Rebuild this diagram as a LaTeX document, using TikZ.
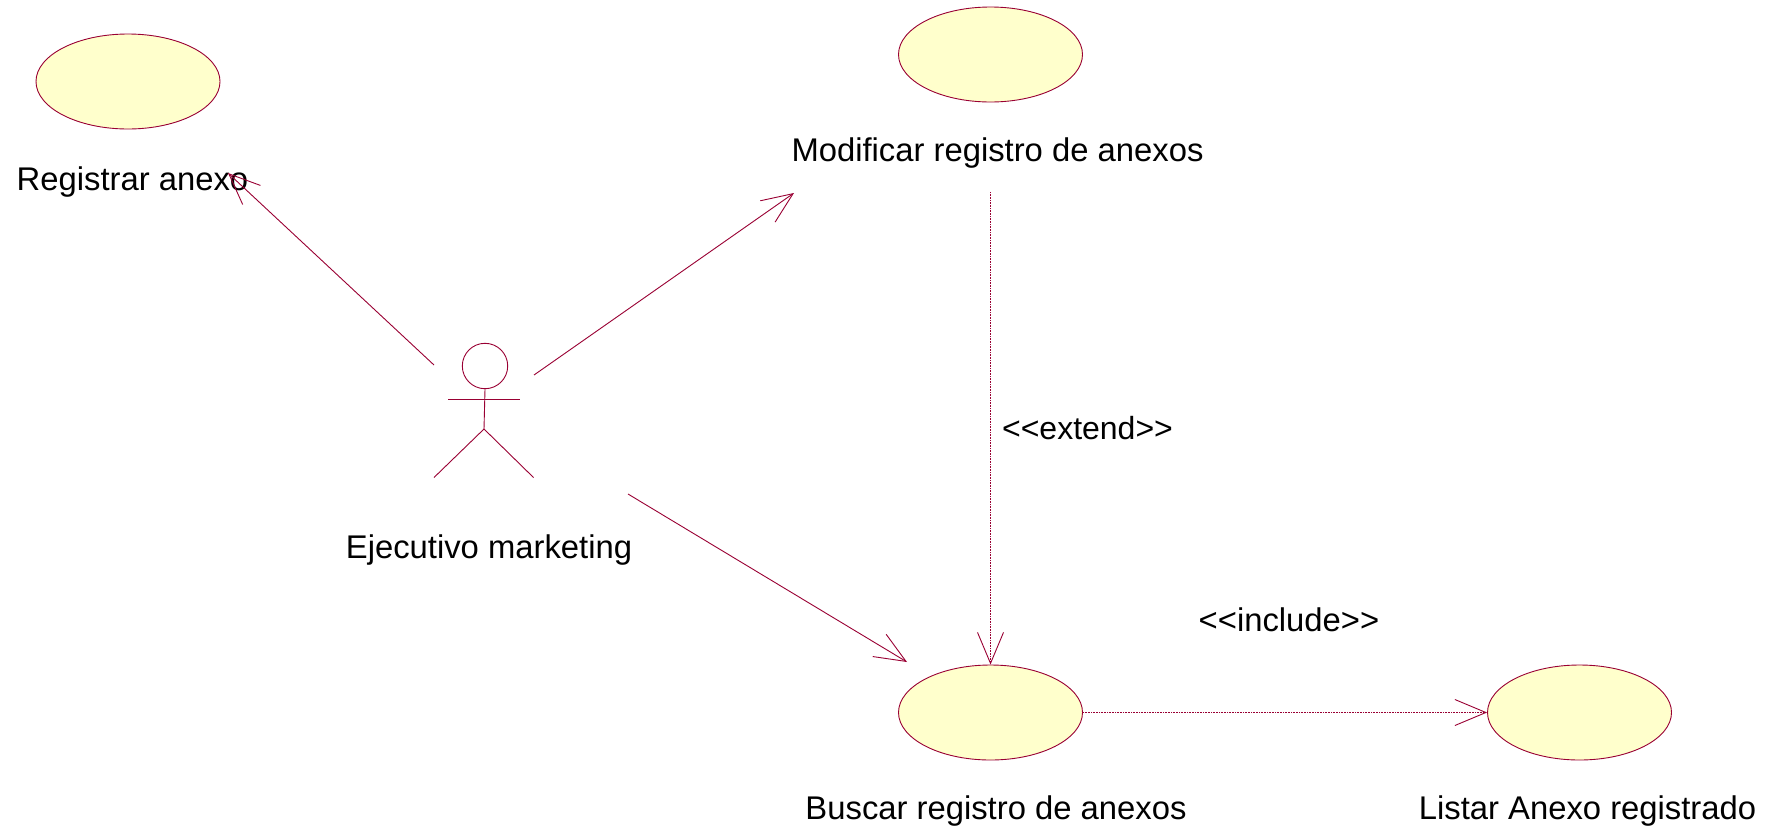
\documentclass[tikz,border=0pt]{standalone}
\usepackage{fontspec}
\setmainfont{Liberation Sans}
\usetikzlibrary{arrows.meta,shapes.geometric}
\definecolor{rose}{HTML}{990033}
\definecolor{ucfill}{HTML}{FFFFCC}
\tikzset{
  x=1pt,y=-1pt,
  usecase/.style={draw=rose,fill=ucfill,ellipse,line width=0.9pt,minimum width=184pt,minimum height=95pt,inner sep=0pt},
  lbl/.style={font=\fontsize{32.8}{36}\selectfont,text=black,inner sep=0pt,anchor=center},
  actorline/.style={draw=rose,line width=0.9pt},
  assoc/.style={draw=rose,line width=0.9pt,-{Straight Barb[length=31pt,width=26pt,line width=0.9pt]}},
  dep/.style={assoc,dash pattern=on 1pt off 0.6pt},
}
\begin{document}
\begin{tikzpicture}
\useasboundingbox (0,0) rectangle (1774,830);
\node[usecase] (reg) at (128,81.5) {};
\node[usecase] (mod) at (990.5,54.5) {};
\node[usecase] (bus) at (990.5,712.5) {};
\node[usecase] (lis) at (1579.5,712.5) {};
\node[lbl] (regl) at (132.5,182.5) {Registrar anexo};
\node[lbl] (modl) at (997.5,153) {Modificar registro de anexos};
\node[lbl] (busl) at (996,811) {Buscar registro de anexos};
\node[lbl] (lisl) at (1587.5,811) {Listar Anexo registrado};
\node[lbl] (acl) at (489,550) {Ejecutivo marketing};
\node[lbl,font=\fontsize{32}{36}\selectfont] (ext) at (1087.5,428) {<{}<extend>{}>};
\node[lbl] (inc) at (1289,620) {<{}<include>{}>};
% actor
\node[draw=rose,line width=0.9pt,circle,minimum size=45.4pt,inner sep=0pt] (head) at (485,366) {};
\coordinate (armL) at (448,399);
\coordinate (armR) at (520,399);
\coordinate (hip) at (484,429);
\coordinate (legL) at (434,477.5);
\coordinate (legR) at (533.5,477.5);
\draw[actorline] (armL) -- (armR);
\draw[actorline] (head.south) -- (hip);
\draw[actorline] (legL) -- (hip) -- (legR);
% connectors
\coordinate (a1) at (434,365);
\coordinate (t1) at (228,173);
\coordinate (a2) at (534,375);
\coordinate (t2) at (794,193);
\coordinate (a3) at (628,494);
\coordinate (t3) at (907,662);
\coordinate (e1) at (990.5,192);
\draw[assoc] (a1) -- (t1);
\draw[assoc] (a2) -- (t2);
\draw[assoc] (a3) -- (t3);
\draw[dep] (e1) -- (bus.north);
\draw[dep] (bus.east) -- (lis.west);
\end{tikzpicture}
\end{document}
